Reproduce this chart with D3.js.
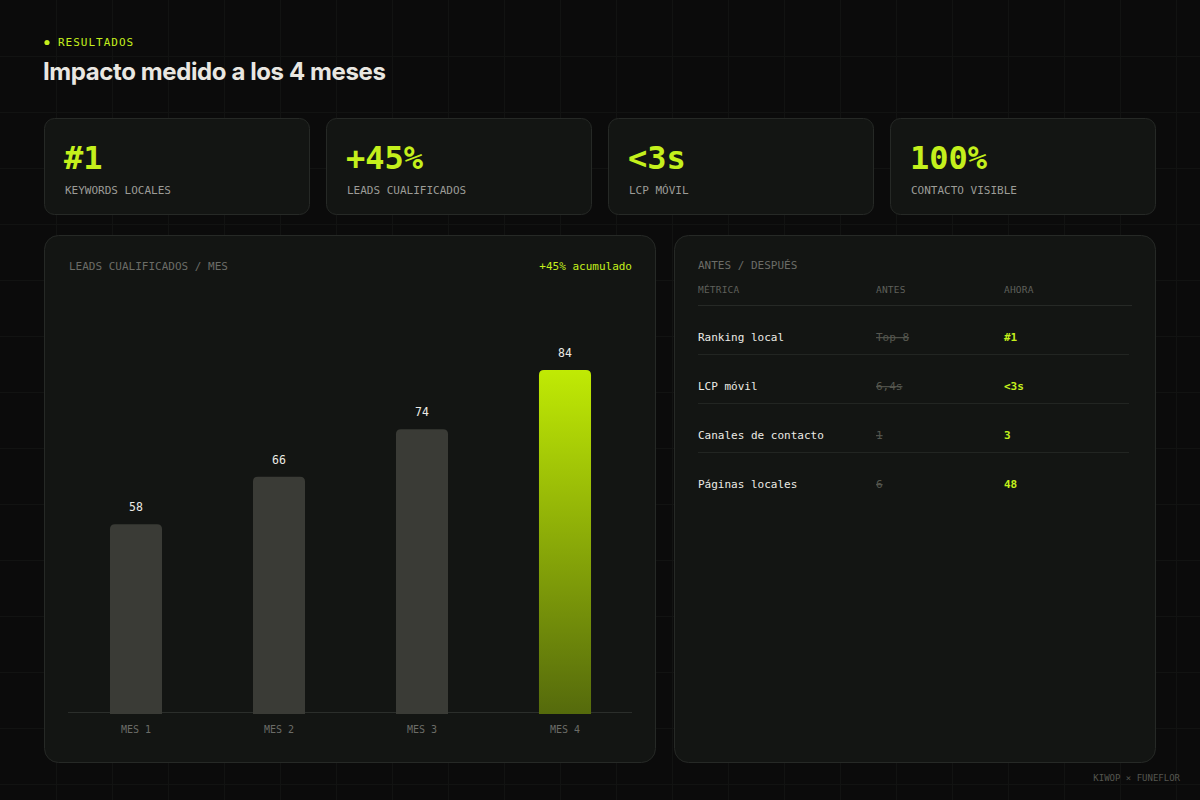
<!DOCTYPE html>
<html><head><meta charset="utf-8">
<script src="https://cdn.jsdelivr.net/npm/d3@7"></script>
<style>
body{margin:0;background:#0b0b0b}
svg{display:block}
</style></head><body>
<svg id="c" width="1200" height="800"></svg>
<script>
// ---- data ----
const months = ["MES 1", "MES 2", "MES 3", "MES 4"];
const leads = [58, 66, 74, 84];
const kpiValues = ["#1", "+45%", "<3s", "100%"];
const kpiLabels = ["KEYWORDS LOCALES", "LEADS CUALIFICADOS", "LCP MÓVIL", "CONTACTO VISIBLE"];
const tableHeaders = ["MÉTRICA", "ANTES", "AHORA"];
const metrics = ["Ranking local", "LCP móvil", "Canales de contacto", "Páginas locales"];
const beforeVals = ["Top 8", "6,4s", "1", "6"];
const afterVals = ["#1", "<3s", "3", "48"];

// ---- style ----
const LIME = "#c4f01c";
const CARD = "#131513";
const STROKE = "#262926";
const MUTED = "#6b6c67";
const MONO = "'DejaVu Sans Mono', monospace";

const svg = d3.select("#c");
svg.append("rect").attr("width", 1200).attr("height", 800).attr("fill", "#0b0b0b");

// background grid
const grid = svg.append("g").attr("stroke", "#121312").attr("stroke-width", 1);
grid.selectAll("line.v").data(d3.range(56, 1200, 56)).join("line")
  .attr("x1", d => d + 0.5).attr("x2", d => d + 0.5).attr("y1", 0).attr("y2", 800);
grid.selectAll("line.h").data(d3.range(56, 800, 56)).join("line")
  .attr("y1", d => d + 0.5).attr("y2", d => d + 0.5).attr("x1", 0).attr("x2", 1200);

// header
svg.append("circle").attr("cx", 47).attr("cy", 42.5).attr("r", 2.6).attr("fill", LIME);
svg.append("text").attr("x", 58).attr("y", 46).attr("fill", LIME)
  .style("font-family", MONO).style("font-size", "11px").style("letter-spacing", "1px")
  .text("RESULTADOS");
svg.append("text").attr("x", 43).attr("y", 80).attr("fill", "#e9e7e1")
  .style("font-family", "Inter, sans-serif").style("font-size", "24px").style("font-weight", 700)
  .style("letter-spacing", "-0.4px")
  .text("Impacto medido a los 4 meses");

// KPI cards
const kpiX = d3.scaleBand().domain(d3.range(4)).range([44, 1156]).paddingInner(16 / 282).paddingOuter(0);
const kpi = svg.selectAll("g.kpi").data(kpiValues).join("g").attr("class", "kpi")
  .attr("transform", (d, i) => `translate(${kpiX(i)},118)`);
kpi.append("rect").attr("x", 0.5).attr("y", 0.5).attr("width", kpiX.bandwidth() - 1).attr("height", 96).attr("rx", 10)
  .attr("fill", CARD).attr("stroke", STROKE);
kpi.append("text").attr("x", 20).attr("y", 51).attr("fill", LIME)
  .style("font-family", MONO).style("font-size", "32px").style("font-weight", 700)
  .text(d => d);
kpi.append("text").attr("x", 21).attr("y", 76).attr("fill", "#9c9c97")
  .style("font-family", MONO).style("font-size", "11px")
  .text((d, i) => kpiLabels[i]);

// panels
svg.append("rect").attr("x", 44.5).attr("y", 235.5).attr("width", 611).attr("height", 527).attr("rx", 14)
  .attr("fill", CARD).attr("stroke", STROKE);
svg.append("rect").attr("x", 674.5).attr("y", 235.5).attr("width", 481).attr("height", 527).attr("rx", 14)
  .attr("fill", CARD).attr("stroke", STROKE);

// chart panel
svg.append("text").attr("x", 69).attr("y", 270).attr("fill", MUTED)
  .style("font-family", MONO).style("font-size", "11px").text("LEADS CUALIFICADOS / MES");
svg.append("text").attr("x", 632).attr("y", 270).attr("text-anchor", "end").attr("fill", LIME)
  .style("font-family", MONO).style("font-size", "11px").text("+45% acumulado");

const x = d3.scaleBand().domain(months).range([64.5, 636.5]).paddingInner(0.636).paddingOuter(0.318);
const y = d3.scaleLinear().domain([26, 84]).range([714, 370]);

const defs = svg.append("defs");
const grad = defs.append("linearGradient").attr("id", "limeGrad").attr("x1", 0).attr("x2", 0).attr("y1", 0).attr("y2", 1);
grad.append("stop").attr("offset", "0%").attr("stop-color", "#c0ea04");
grad.append("stop").attr("offset", "100%").attr("stop-color", "#556a0c");

// baseline
svg.append("line").attr("x1", 68).attr("x2", 632).attr("y1", 712.5).attr("y2", 712.5)
  .attr("stroke", "#2b2e2b").attr("stroke-width", 1);

function topRounded(x0, y0, w, h, r) {
  return `M${x0},${y0 + h}V${y0 + r}Q${x0},${y0} ${x0 + r},${y0}H${x0 + w - r}Q${x0 + w},${y0} ${x0 + w},${y0 + r}V${y0 + h}Z`;
}
const lastIdx = leads.length - 1;
svg.append("g").selectAll("path").data(leads).join("path")
  .attr("d", (d, i) => topRounded(x(months[i]), y(d), x.bandwidth(), y(y.domain()[0]) - y(d), 5))
  .attr("fill", (d, i) => i === lastIdx ? "url(#limeGrad)" : "#3a3b36");

svg.append("g").selectAll("text").data(leads).join("text")
  .attr("x", (d, i) => x(months[i]) + x.bandwidth() / 2)
  .attr("y", d => y(d) - 13)
  .attr("text-anchor", "middle").attr("fill", "#ecebe5")
  .style("font-family", MONO).style("font-size", "11.5px")
  .text(d => d);

const xAxis = svg.append("g").attr("transform", "translate(0,714)")
  .call(d3.axisBottom(x).tickSize(0).tickPadding(12));
xAxis.select(".domain").remove();
xAxis.selectAll("text").attr("fill", MUTED)
  .style("font-family", MONO).style("font-size", "10px");

// table panel
svg.append("text").attr("x", 698).attr("y", 269).attr("fill", MUTED)
  .style("font-family", MONO).style("font-size", "11px").text("ANTES / DESPUÉS");
const colX = [698, 876, 1004];
svg.append("g").selectAll("text").data(tableHeaders).join("text")
  .attr("x", (d, i) => colX[i]).attr("y", 293).attr("fill", "#5f605b")
  .style("font-family", MONO).style("font-size", "9.5px").style("letter-spacing", "0.2px")
  .text(d => d);
svg.append("line").attr("x1", 698).attr("x2", 1132).attr("y1", 305.5).attr("y2", 305.5)
  .attr("stroke", "#262926");

const rowY = d3.scalePoint().domain(metrics).range([337, 484]);
const rows = svg.selectAll("g.row").data(metrics).join("g").attr("class", "row")
  .attr("transform", d => `translate(0,${rowY(d)})`);
rows.append("text").attr("x", colX[0]).attr("y", 4).attr("fill", "#ecebe5")
  .style("font-family", MONO).style("font-size", "11px").text(d => d);
rows.append("text").attr("x", colX[1]).attr("y", 4).attr("fill", "#56574f")
  .style("font-family", MONO).style("font-size", "11px").style("text-decoration", "line-through")
  .text((d, i) => beforeVals[i]);
rows.append("text").attr("x", colX[2]).attr("y", 4).attr("fill", LIME)
  .style("font-family", MONO).style("font-size", "11px").style("font-weight", 700)
  .text((d, i) => afterVals[i]);
rows.filter((d, i) => i < metrics.length - 1).append("line")
  .attr("x1", 698).attr("x2", 1129).attr("y1", 17.5).attr("y2", 17.5).attr("stroke", "#222522");

// footer
svg.append("text").attr("x", 1180).attr("y", 781).attr("text-anchor", "end").attr("fill", "#55564f")
  .style("font-family", MONO).style("font-size", "9px").text("KIWOP × FUNEFLOR");
</script>
</body></html>
